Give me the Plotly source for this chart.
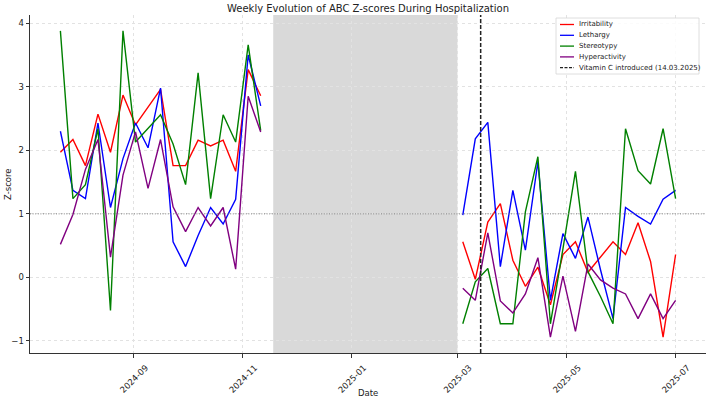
import plotly.graph_objects as go

# ---- data ----
dates_before = ["2024-07-22", "2024-07-29", "2024-08-05", "2024-08-12", "2024-08-19", "2024-08-26",
                "2024-09-02", "2024-09-09", "2024-09-16", "2024-09-23", "2024-09-30", "2024-10-07",
                "2024-10-14", "2024-10-21", "2024-10-28", "2024-11-04", "2024-11-11"]
dates_after = ["2025-03-04", "2025-03-11", "2025-03-18", "2025-03-25", "2025-04-01", "2025-04-08",
               "2025-04-15", "2025-04-22", "2025-04-29", "2025-05-06", "2025-05-13", "2025-05-20",
               "2025-05-27", "2025-06-03", "2025-06-10", "2025-06-17", "2025-06-24", "2025-07-01"]

irritability_before = [1.97, 2.17, 1.76, 2.57, 1.97, 2.87, 2.40, 2.68, 2.96, 1.76, 1.76, 2.16, 2.07, 2.16, 1.67, 3.27, 2.86]
lethargy_before = [2.30, 1.37, 1.24, 2.43, 1.10, 1.87, 2.43, 2.04, 2.98, 0.56, 0.17, 0.66, 1.10, 0.84, 1.23, 3.50, 2.70]
stereotypy_before = [3.88, 1.24, 1.46, 2.34, -0.52, 3.88, 2.13, 2.34, 2.56, 2.10, 1.46, 3.22, 1.24, 2.56, 2.13, 3.66, 2.31]
hyperactivity_before = [0.52, 0.99, 1.70, 2.17, 0.32, 1.61, 2.29, 1.40, 2.17, 1.11, 0.72, 1.10, 0.81, 1.10, 0.13, 2.85, 2.29]

irritability_after = [0.56, -0.03, 0.87, 1.16, 0.27, -0.14, 0.16, -0.43, 0.36, 0.56, 0.08, 0.32, 0.56, 0.36, 0.86, 0.25, -0.94, 0.36]
lethargy_after = [0.98, 2.18, 2.44, 0.17, 1.37, 0.43, 1.82, -0.36, 0.69, 0.30, 0.95, 0.12, -0.65, 1.10, 0.96, 0.84, 1.23, 1.37]
stereotypy_after = [-0.73, -0.07, 0.14, -0.73, -0.73, 1.03, 1.90, -0.73, 0.45, 1.67, 0.09, -0.30, -0.73, 2.34, 1.68, 1.47, 2.34, 1.24]
hyperactivity_after = [-0.17, -0.36, 0.70, -0.37, -0.56, -0.26, 0.31, -0.94, 0.02, -0.85, 0.21, -0.04, -0.17, -0.26, -0.65, -0.26, -0.65, -0.36]

series_names = ["Irritability", "Lethargy", "Stereotypy", "Hyperactivity"]
series_colors = ["red", "blue", "green", "purple"]
before = [irritability_before, lethargy_before, stereotypy_before, hyperactivity_before]
after = [irritability_after, lethargy_after, stereotypy_after, hyperactivity_after]

gap_start = "2024-11-18"
gap_end = "2025-03-01"
vitamin_date = "2025-03-14"
vitamin_label = "Vitamin C introduced (14.03.2025)"
x_range = ["2024-07-05", "2025-07-18"]
y_range = [-1.19, 4.13]
y_ticks = [-1, 0, 1, 2, 3, 4]

FONT = "DejaVu Sans"
W, H = 708, 398
L, R, T, B = 30, 2, 15, 45

fig = go.Figure()
for name, color, yb, ya in zip(series_names, series_colors, before, after):
    fig.add_trace(go.Scatter(x=dates_before, y=yb, mode="lines", name=name,
                             line=dict(color=color, width=1.4), showlegend=False))
    fig.add_trace(go.Scatter(x=dates_after, y=ya, mode="lines", name=name,
                             line=dict(color=color, width=1.4), showlegend=False))

# hospital gap shading
fig.add_shape(type="rect", xref="x", yref="paper", x0=gap_start, x1=gap_end, y0=0, y1=1,
              fillcolor="rgba(128,128,128,0.3)", line=dict(width=0), layer="below")
# reference line at z=1
fig.add_shape(type="line", xref="paper", yref="y", x0=0, x1=1, y0=1, y1=1,
              line=dict(color="gray", width=1, dash="1px,1.6px"))
# vitamin line
fig.add_shape(type="line", xref="x", yref="paper", x0=vitamin_date, x1=vitamin_date, y0=0, y1=1,
              line=dict(color="#222", width=1.5, dash="4px,2px"))

# manual legend
pw, ph = W - L - R, H - T - B
def px_x(px):
    return (px - L) / pw
def px_y(py):
    return 1 - (py - T) / ph

fig.add_shape(type="rect", xref="paper", yref="paper",
              x0=px_x(556), x1=px_x(699), y0=px_y(74), y1=px_y(18),
              fillcolor="rgba(255,255,255,0.85)", line=dict(color="#d6d6d6", width=0.8))
legend_items = series_names + [vitamin_label]
legend_colors = series_colors + ["#222"]
legend_dash = ["solid"] * 4 + ["3px,1.5px"]
for i, (txt, col, dsh) in enumerate(zip(legend_items, legend_colors, legend_dash)):
    yy = 24.5 + i * 10.8
    fig.add_shape(type="line", xref="paper", yref="paper",
                  x0=px_x(560), x1=px_x(574), y0=px_y(yy), y1=px_y(yy),
                  line=dict(color=col, width=1.3, dash=dsh))
    fig.add_annotation(xref="paper", yref="paper", x=px_x(577), y=px_y(yy),
                       text=txt, showarrow=False, xanchor="left", yanchor="middle",
                       font=dict(family=FONT, size=7, color="#222"))

# axis titles as annotations (fixed positions)
fig.add_annotation(xref="paper", yref="paper", x=0.5, y=px_y(393), text="Date",
                   showarrow=False, xanchor="center", yanchor="middle",
                   font=dict(family=FONT, size=8.5, color="#222"))
fig.add_annotation(xref="paper", yref="paper", x=px_x(8), y=px_y(184), text="Z-score",
                   showarrow=False, xanchor="center", yanchor="middle", textangle=-90,
                   font=dict(family=FONT, size=8.5, color="#222"))

fig.update_layout(
    width=W, height=H,
    margin=dict(l=L, r=R, t=T, b=B),
    paper_bgcolor="white", plot_bgcolor="white",
    font=dict(family=FONT, color="#222"),
    title=dict(text="Weekly Evolution of ABC Z-scores During Hospitalization",
               x=0.5, xref="paper", y=1 - 8 / H, yref="container", yanchor="middle",
               font=dict(family=FONT, size=10, color="#222")),
    showlegend=False,
)
fig.update_xaxes(
    range=x_range, type="date", tick0="2024-09-01", dtick="M2", tickformat="%Y-%m",
    tickangle=-45, tickfont=dict(family=FONT, size=8.5, color="#222"),
    ticklabelshift=12, ticklabelstandoff=2, automargin=False,
    showline=True, linecolor="#333", linewidth=1, mirror=False,
    ticks="outside", ticklen=3.5, tickcolor="#333", tickwidth=0.8,
    showgrid=True, gridcolor="#e2e2e2", griddash="dot", gridwidth=0.8,
    zeroline=False,
)
fig.update_yaxes(
    range=y_range, tickvals=y_ticks, automargin=False,
    tickfont=dict(family=FONT, size=8.5, color="#222"),
    showline=True, linecolor="#333", linewidth=1, mirror=False,
    ticks="outside", ticklen=3.5, tickcolor="#333", tickwidth=0.8,
    showgrid=True, gridcolor="#e2e2e2", griddash="dot", gridwidth=0.8,
    zeroline=False,
)

fig.write_html("out.html")
